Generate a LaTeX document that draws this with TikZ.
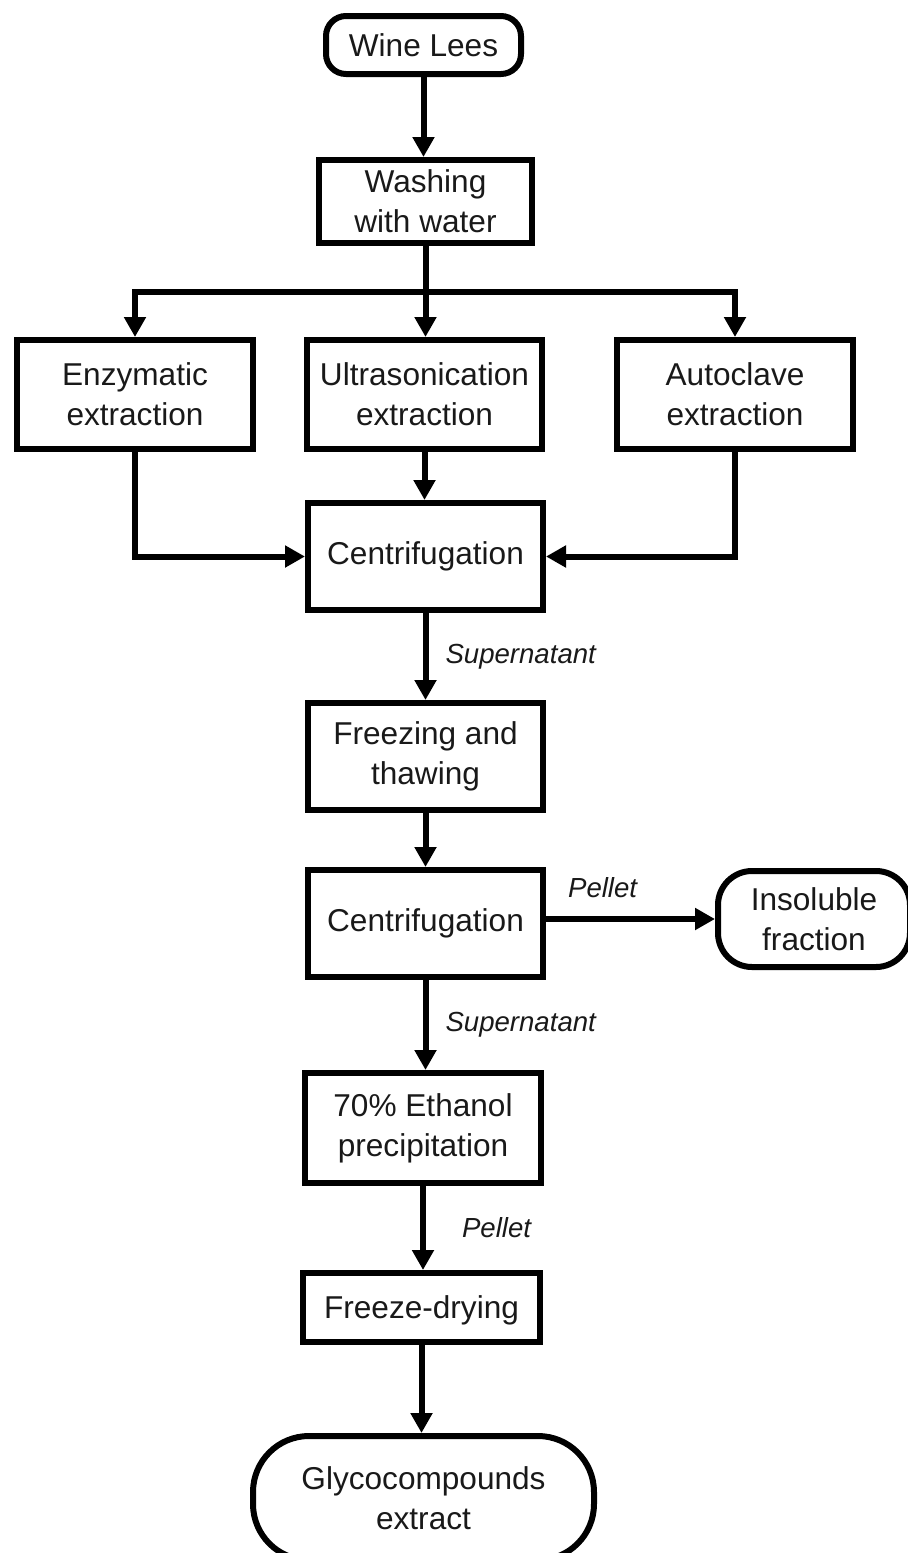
\documentclass[tikz,border=0pt]{standalone}
\usepackage{fontspec}
\setmainfont{Liberation Sans}
\usetikzlibrary{arrows.meta}
\begin{document}
\begin{tikzpicture}[x=0.5pt,y=-0.5pt,
  box/.style={draw, line width=3pt, align=center, inner sep=0pt,
    font=\fontsize{15.8}{20}\selectfont, text=black!90},
  term/.style={box, rounded corners=10pt},
  line/.style={line width=3pt},
  arr/.style={line width=3pt, -{Triangle[length=10pt,width=10.5pt]}},
  lab/.style={inner sep=0pt, font=\fontsize{13.8}{16}\selectfont\itshape, text=black!90}]
\useasboundingbox (0,0) rectangle (908,1553);

\node[term, minimum width=97.5pt, minimum height=29pt] (wine) at (423.5,45) {Wine Lees};
\node[box, minimum width=106.5pt, minimum height=41.5pt] (wash) at (425.5,201.5) {Washing\\with water};
\node[box, minimum width=118pt, minimum height=54.5pt] (enz) at (135,394.5) {Enzymatic\\extraction};
\node[box, minimum width=117.5pt, minimum height=54.5pt] (ultra) at (424.5,394.5) {Ultrasonication\\extraction};
\node[box, minimum width=118pt, minimum height=54.5pt] (auto) at (735,394.5) {Autoclave\\extraction};
\node[box, minimum width=117.5pt, minimum height=53.5pt] (cent1) at (425.5,556.5) {Centrifugation};
\node[box, minimum width=117.5pt, minimum height=53.5pt] (freeze) at (425.5,756.5) {Freezing and\\thawing};
\node[box, minimum width=117.5pt, minimum height=53.5pt] (cent2) at (425.5,923.5) {Centrifugation};
\node[term, rounded corners=17pt, minimum width=96pt, minimum height=48pt] (insol) at (814,919) {Insoluble\\fraction};
\node[box, minimum width=118pt, minimum height=55pt] (eth) at (423,1128) {70\% Ethanol\\precipitation};
\node[box, text depth=0pt, minimum width=118.5pt, minimum height=34.5pt] (fdry) at (421.5,1307.5) {Freeze-drying};
\node[term, rounded corners=28pt, minimum width=170.5pt, minimum height=62pt] (glyco) at (423.5,1498) {Glycocompounds\\extract};

\coordinate (br) at (425.5,292);
\draw[arr] (wine.south) -- (wine.south |- wash.north);
\draw[line] (wash.south) -- (br);
\draw[arr] (br) -| (enz.north);
\draw[arr] (br) -| (auto.north);
\draw[arr] (br) -- (br |- ultra.north);
\draw[arr] (ultra.south) -- (ultra.south |- cent1.north);
\draw[arr] (enz.south) |- (cent1.west);
\draw[arr] (auto.south) |- (cent1.east);
\draw[arr] (cent1.south) -- node[lab, midway, anchor=west, xshift=8.5pt] {Supernatant} (cent1.south |- freeze.north);
\draw[arr] (freeze.south) -- (freeze.south |- cent2.north);
\draw[arr] (cent2.east |- insol.west) -- node[lab, pos=0.335, anchor=south, yshift=9pt] {Pellet} (insol.west);
\draw[arr] (cent2.south) -- node[lab, midway, anchor=west, xshift=8.5pt] {Supernatant} (cent2.south |- eth.north);
\draw[arr] (eth.south) -- node[lab, midway, anchor=west, xshift=18pt] {Pellet} (eth.south |- fdry.north);
\draw[arr] (fdry.south) -- (fdry.south |- glyco.north);
\end{tikzpicture}
\end{document}
